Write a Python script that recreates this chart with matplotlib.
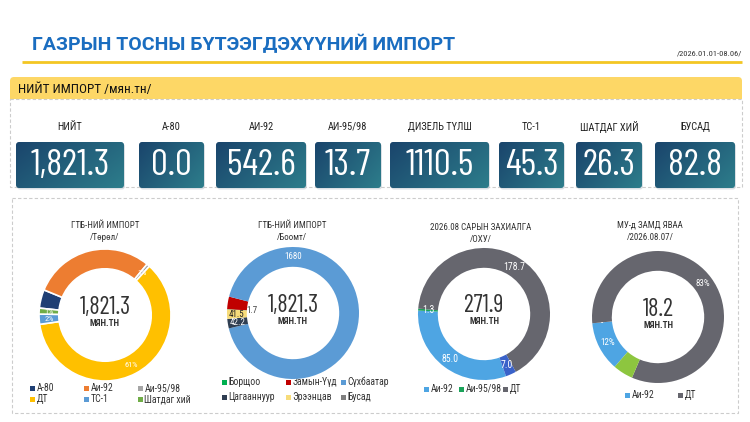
import matplotlib
matplotlib.use('Agg')
import matplotlib.pyplot as plt
from matplotlib import font_manager as fm
from matplotlib.patches import FancyBboxPatch, Rectangle
import numpy as np

# ---- data ----
kpi_names = ['НИЙТ', 'А-80', 'АИ-92', 'АИ-95/98', 'ДИЗЕЛЬ ТҮЛШ', 'ТС-1', 'ШАТДАГ ХИЙ', 'БУСАД']
kpi_values = [1821.3, 0.0, 542.6, 13.7, 1110.5, 45.3, 26.3, 82.8]

type_names = ['А-80', 'Аи-92', 'Аи-95/98', 'ДТ', 'ТС-1', 'Шатдаг хий']
type_values = [82.8, 542.6, 13.7, 1110.5, 45.3, 26.3]
type_total = 1821.3

port_names = ['Борщоо', 'Замын-Үүд', 'Сүхбаатар', 'Цагааннуур', 'Эрээнцав', 'Бусад']
port_values = [1.7, 55.9, 1680.0, 42.2, 41.5, 0.0]
port_total = 1821.3

order_names = ['Аи-92', 'Аи-95/98', 'ДТ', 'Бусад']
order_values = [85.0, 1.3, 178.7, 7.0]
order_total = 271.9

transit_names = ['Аи-92', 'Аи-95/98', 'ДТ', 'Бусад']
transit_values = [2.2, 0.0, 15.1, 0.9]
transit_total = 18.2

# ---- fonts ----
names = {f.name for f in fm.fontManager.ttflist}
def pick(*cands):
    for c in cands:
        if c in names:
            return c
    return 'DejaVu Sans'

NARROW = pick('Roboto Condensed', 'Liberation Sans Narrow', 'Noto Sans Condensed')
DIGITS = [pick('Barlow Condensed', 'Roboto Condensed'), NARROW]
BOLD = pick('Roboto', 'Liberation Sans')

fig = plt.figure(figsize=(7.5, 4.22), dpi=100)
bg = fig.add_axes([0, 0, 1, 1])
bg.set_xlim(0, 750)
bg.set_ylim(422, 0)
bg.axis('off')

# header
bg.text(32, 44, 'ГАЗРЫН ТОСНЫ БҮТЭЭГДЭХҮҮНИЙ ИМПОРТ', family=BOLD, weight='bold',
        fontsize=14, color='#1a6dc0', va='center', ha='left')
bg.text(742, 53, '/2026.01.01-08.06/', family=NARROW, fontsize=6, color='#333333',
        ha='right', va='center')
bg.plot([22, 742], [62, 62], color='#f3c623', lw=2, solid_capstyle='butt')

# banner
bg.add_patch(FancyBboxPatch((10, 77), 732, 26, boxstyle='round,pad=0,rounding_size=4',
                            fc='#fdd766', ec='none'))
bg.add_patch(Rectangle((10, 95), 732, 8, fc='white', ec='none'))
bg.add_patch(Rectangle((10, 89), 732, 10, fc='#fdd766', ec='none'))
bg.text(18, 89, 'НИЙТ ИМПОРТ /мян.тн/', family=NARROW, fontsize=9.5, color='#111111',
        va='center', ha='left')

# panels
dash = (0, (3, 2))
bg.add_patch(Rectangle((10, 99), 732, 88, fc='none', ec='#cccccc', lw=0.8, ls=dash))
bg.add_patch(Rectangle((12, 198), 726, 215, fc='none', ec='#cccccc', lw=0.8, ls=dash))

# kpi boxes
box_left = [16, 139, 216, 315, 390, 499, 576, 655]
box_right = [124, 204, 306, 381, 489, 564, 642, 735]
c0 = np.array([0x1a, 0x45, 0x6c]) / 255
c1 = np.array([0x2d, 0x7d, 0x8b]) / 255
gy, gx = np.mgrid[0:1:30j, 0:1:60j]
t = np.clip(0.65 * gx + 0.35 * gy, 0, 1)[..., None]
grad = c0 * (1 - t) + c1 * t
for name, val, x0, x1 in zip(kpi_names, kpi_values, box_left, box_right):
    y0, y1 = 142, 188
    bg.add_patch(FancyBboxPatch((x0 + 1, y0 + 1.5), x1 - x0, y1 - y0,
                                boxstyle='round,pad=0,rounding_size=3',
                                fc='#b9c3cc', ec='none', alpha=0.5))
    patch = FancyBboxPatch((x0, y0), x1 - x0, y1 - y0, boxstyle='round,pad=0,rounding_size=3',
                           fc='none', ec='none')
    bg.add_patch(patch)
    im = bg.imshow(grad, extent=(x0, x1, y1, y0), origin='upper', aspect='auto',
                   interpolation='bilinear', zorder=2)
    im.set_clip_path(patch)
    txt = f'{val:,.1f}' if name == 'НИЙТ' else f'{val:.1f}'
    bg.text((x0 + x1) / 2, (y0 + y1) / 2 + 0.5, txt, family=DIGITS, fontsize=27,
            color='white', ha='center', va='center', zorder=3)
    bg.text((x0 + x1) / 2, 127, name, family=NARROW, fontsize=7.5, color='#222222',
            ha='center', va='center')

R = 66


def donut(cx, cy, values, colors, start, labels, label_colors, edge=None, lw=0,
          label_r=0.85, label_fs=6.5):
    ax = fig.add_axes([(cx - R) / 750, 1 - (cy + R) / 422, 2 * R / 750, 2 * R / 422])
    ax.pie(values, colors=colors, startangle=start, counterclock=False, radius=1,
           wedgeprops=dict(width=0.3, edgecolor=edge if edge else 'none', linewidth=lw))
    ax.set_xlim(-1, 1)
    ax.set_ylim(-1, 1)
    ax.set_aspect('equal')
    ax.axis('off')
    total = sum(values)
    cum = 0
    for v, lab, lc in zip(values, labels, label_colors):
        mid = start - 360 * (cum + v / 2) / total
        cum += v
        if lab is None:
            continue
        text, ang, rr = lab
        if ang is not None:
            mid = ang
        r = label_r if rr is None else rr
        ax.text(r * np.cos(np.radians(mid)), r * np.sin(np.radians(mid)), text,
                ha='center', va='center', fontsize=label_fs, color=lc, family=NARROW)
    return ax


def center(cx, cy, total_txt):
    bg.text(cx, cy - 8, total_txt, family=DIGITS, fontsize=17.5,
            color='#333333', ha='center', va='center')
    bg.text(cx, cy + 8, 'МЯН.ТН', family=NARROW, fontsize=6.5, color='#333333',
            ha='center', va='center', weight='bold')


def legend(items, colors, xs, ys):
    for i, (n, c) in enumerate(zip(items, colors)):
        x = xs[i % len(xs)]
        y = ys[i // len(xs)]
        bg.add_patch(Rectangle((x - 2.5, y - 2.5), 5, 5, fc=c, ec='none'))
        bg.text(x + 4.5, y, n, family=NARROW, fontsize=7, color='#333333',
                ha='left', va='center')


def title(cx, y, l1, l2):
    bg.text(cx, y, l1, family=NARROW, fontsize=6.5, color='#333333', ha='center', va='center')
    bg.text(cx, y + 12, l2, family=NARROW, fontsize=6.5, color='#333333', ha='center', va='center')


# donut 1 - type
type_colors = ['#203f74', '#ed7d31', '#a5a5a5', '#ffc000', '#5b9bd5', '#70ad47']
pct = [f'{round(100 * v / sum(type_values)):.0f}%' for v in type_values]
show = [False, False, True, True, True, True]
labs = [(p, None, None) if s else None for p, s in zip(pct, show)]
donut(105, 315, type_values, type_colors, 174, labs, ['white'] * 6, edge='white', lw=1.2,
      label_fs=6)
center(105, 315, f'{type_total:,.1f}')
title(105, 225, 'ГТБ-НИЙ ИМПОРТ', '/Төрөл/')
legend(type_names, type_colors, [32, 86, 140], [388, 399])

# donut 2 - ports
port_colors = ['#00b050', '#c00000', '#5b9bd5', '#2f3e52', '#f7dc7a', '#7f7f7f']
labs = [(f'{port_values[0]:g}', None, 0.62), None, (f'{port_values[2]:g}', 90, None),
        (f'{port_values[3]:g}', None, None), (f'{port_values[4]:g}', None, None), None]
donut(293, 313, port_values, port_colors, 177, labs,
      ['#444444', 'white', 'white', 'white', '#222222', 'white'], label_fs=6.5)
center(293, 313, f'{port_total:,.1f}')
title(292, 225, 'ГТБ-НИЙ ИМПОРТ', '/Боомт/')
legend(port_names, port_colors, [224, 288, 343], [382, 397])

# donut 3 - orders
order_colors = ['#4ea5e3', '#1aa35a', '#66666e', '#3a62c9']
labs = [(f'{v:.1f}', None, None) for v in order_values]
donut(484, 314, order_values, order_colors, 289.5, labs, ['white'] * 4, label_fs=7)
center(484, 314, f'{order_total:.1f}')
title(481, 227, '2026.08 САРЫН ЗАХИАЛГА', '/ОХУ/')
legend(order_names[:3], order_colors[:3], [426, 461, 505], [389])

# donut 4 - transit
transit_colors = ['#4ea5e3', '#1aa35a', '#66666e', '#8dc63f']
tp = [f'{round(100 * v / sum(transit_values)):.0f}%' for v in transit_values]
labs = [(tp[0], None, None), ('-', None, None), (tp[2], None, None), None]
donut(658, 317, transit_values, transit_colors, 229, labs, ['white'] * 4, label_fs=6.5)
center(658, 317, f'{transit_total:.1f}')
title(650, 225, 'МУ-д ЗАМД ЯВАА', '/2026.08.07/')
legend([transit_names[0], transit_names[2]], [transit_colors[0], transit_colors[2]],
       [627, 680], [395])

fig.savefig('out.png', dpi=100)
